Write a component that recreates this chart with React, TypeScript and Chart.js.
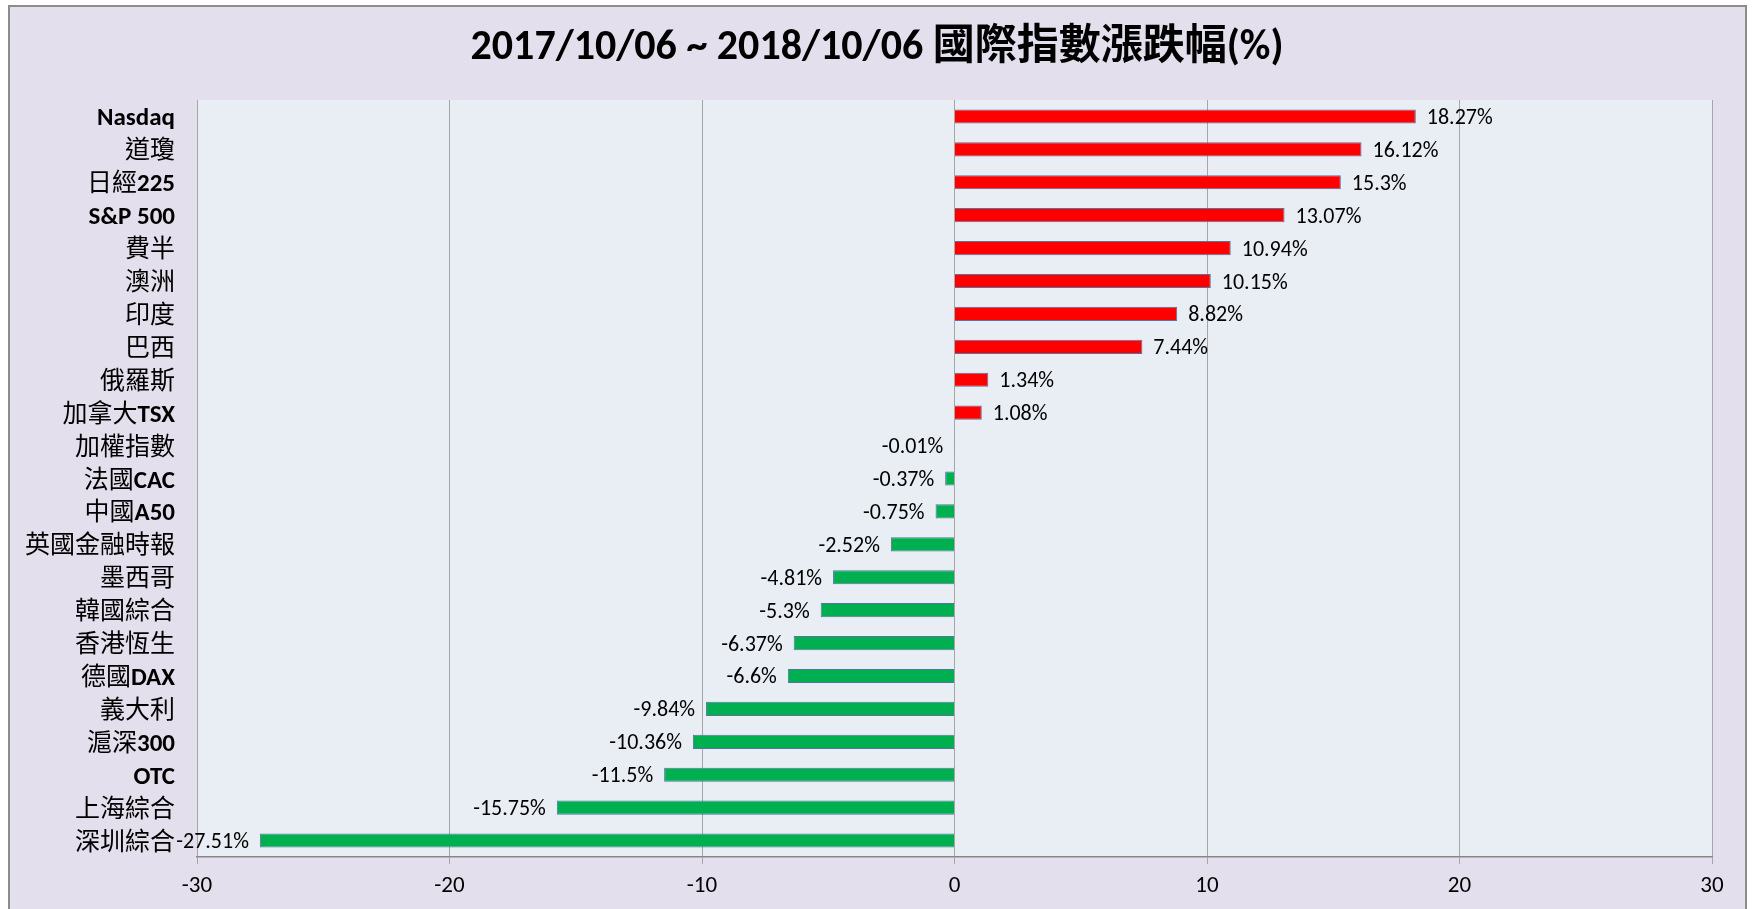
import React, { useEffect, useRef } from "react";
import { Chart, registerables } from "chart.js";

Chart.register(...registerables);

const TITLE = "2017/10/06 ~ 2018/10/06 國際指數漲跌幅(%)";

const categories = [
  "Nasdaq", "道瓊", "日經225", "S&P 500", "費半", "澳洲", "印度", "巴西",
  "俄羅斯", "加拿大TSX", "加權指數", "法國CAC", "中國A50", "英國金融時報",
  "墨西哥", "韓國綜合", "香港恆生", "德國DAX", "義大利", "滬深300", "OTC",
  "上海綜合", "深圳綜合",
];

const changes = [
  18.27, 16.12, 15.3, 13.07, 10.94, 10.15, 8.82, 7.44, 1.34, 1.08,
  -0.01, -0.37, -0.75, -2.52, -4.81, -5.3, -6.37, -6.6, -9.84, -10.36,
  -11.5, -15.75, -27.51,
];

const xTickValues = [-30, -20, -10, 0, 10, 20, 30];

const LATIN = 'Carlito, Lato, "Noto Sans", sans-serif';
const CJK = '"Noto Sans CJK TC", "Noto Sans CJK SC", sans-serif';
const W = 1753;
const H = 909;

const framePlugin = {
  id: "frame",
  beforeDraw(chart: any) {
    const { ctx, chartArea } = chart;
    ctx.save();
    ctx.fillStyle = "#ffffff";
    ctx.fillRect(0, 0, W, H);
    ctx.fillStyle = "#E4DFEC";
    ctx.fillRect(9, 6, 1737, 930);
    ctx.strokeStyle = "#8C8C8C";
    ctx.lineWidth = 2;
    ctx.strokeRect(9, 6, 1737, 930);
    ctx.fillStyle = "#E9EDF4";
    ctx.fillRect(chartArea.left, chartArea.top, chartArea.right - chartArea.left, chartArea.bottom - chartArea.top);
    // title
    ctx.fillStyle = "#000";
    ctx.font = `bold 42px Carlito, Lato, "Noto Sans CJK TC", sans-serif`;
    ctx.textAlign = "center";
    ctx.textBaseline = "middle";
    ctx.fillText(TITLE, 877, 48);
    ctx.restore();
  },
};

const isCJK = (ch: string) => /[\u2e80-\u9fff\uf900-\ufaff]/.test(ch);

const labelPlugin = {
  id: "catLabels",
  afterDraw(chart: any) {
    const { ctx } = chart;
    const yScale = chart.scales.y;
    ctx.save();
    ctx.fillStyle = "#000";
    ctx.textBaseline = "alphabetic";
    ctx.textAlign = "left";
    categories.forEach((label, i) => {
      const runs: { t: string; cjk: boolean }[] = [];
      for (const ch of label) {
        const c = isCJK(ch);
        if (runs.length && runs[runs.length - 1].cjk === c) runs[runs.length - 1].t += ch;
        else runs.push({ t: ch, cjk: c });
      }
      const fontFor = (r: { cjk: boolean }) => (r.cjk ? `400 25px ${CJK}` : `bold 25px ${LATIN}`);
      let total = 0;
      const widths = runs.map((r) => {
        ctx.font = fontFor(r);
        const w = ctx.measureText(r.t).width;
        total += w;
        return w;
      });
      const y = yScale.getPixelForValue(i) + 9;
      let x = 175 - total;
      runs.forEach((r, k) => {
        ctx.font = fontFor(r);
        ctx.fillText(r.t, x, y);
        x += widths[k];
      });
    });
    ctx.restore();
  },
};

const valuePlugin = {
  id: "valueLabels",
  afterDatasetsDraw(chart: any) {
    const { ctx } = chart;
    const meta = chart.getDatasetMeta(0);
    ctx.save();
    ctx.fillStyle = "#000";
    ctx.font = `22px ${LATIN}`;
    ctx.textBaseline = "middle";
    meta.data.forEach((el: any, i: number) => {
      const v = changes[i];
      const txt = `${v}%`;
      if (v >= 0) {
        ctx.textAlign = "left";
        ctx.fillText(txt, el.x + 11, el.y + 2);
      } else {
        ctx.textAlign = "right";
        ctx.fillText(txt, el.x - 11, el.y + 2);
      }
    });
    ctx.restore();
  },
};

export default function App() {
  const ref = useRef<HTMLCanvasElement | null>(null);
  useEffect(() => {
    if (!ref.current) return;
    const chart = new Chart(ref.current, {
      type: "bar",
      data: {
        labels: categories,
        datasets: [
          {
            data: changes,
            backgroundColor: changes.map((v) => (v >= 0 ? "#FF0000" : "#00B050")),
            borderColor: "#5574A0",
            borderWidth: 1,
            barPercentage: 0.43,
            categoryPercentage: 1,
          },
        ],
      },
      options: {
        indexAxis: "y",
        animation: false,
        responsive: false,
        devicePixelRatio: 1,
        layout: { padding: { left: 197, right: 41, top: 100, bottom: 0 } },
        plugins: { legend: { display: false }, tooltip: { enabled: false }, title: { display: false } },
        scales: {
          y: { display: false },
          x: {
            min: xTickValues[0],
            max: xTickValues[xTickValues.length - 1],
            afterBuildTicks: (s: any) => {
              s.ticks = xTickValues.map((v) => ({ value: v }));
            },
            afterFit: (s: any) => {
              s.height = 52;
            },
            ticks: { color: "#000", font: { family: LATIN, size: 23 }, padding: 8 },
            grid: { color: "#A6A6A6", lineWidth: 1, tickLength: 7, drawTicks: true },
            border: { color: "#868686", width: 1.5 },
          },
        },
      } as any,
      plugins: [framePlugin, labelPlugin, valuePlugin],
    });
    return () => chart.destroy();
  }, []);
  return (
    <canvas
      ref={ref}
      width={W}
      height={H}
      style={{ position: "fixed", left: 0, top: 0, width: W, height: H, display: "block" }}
    />
  );
}
